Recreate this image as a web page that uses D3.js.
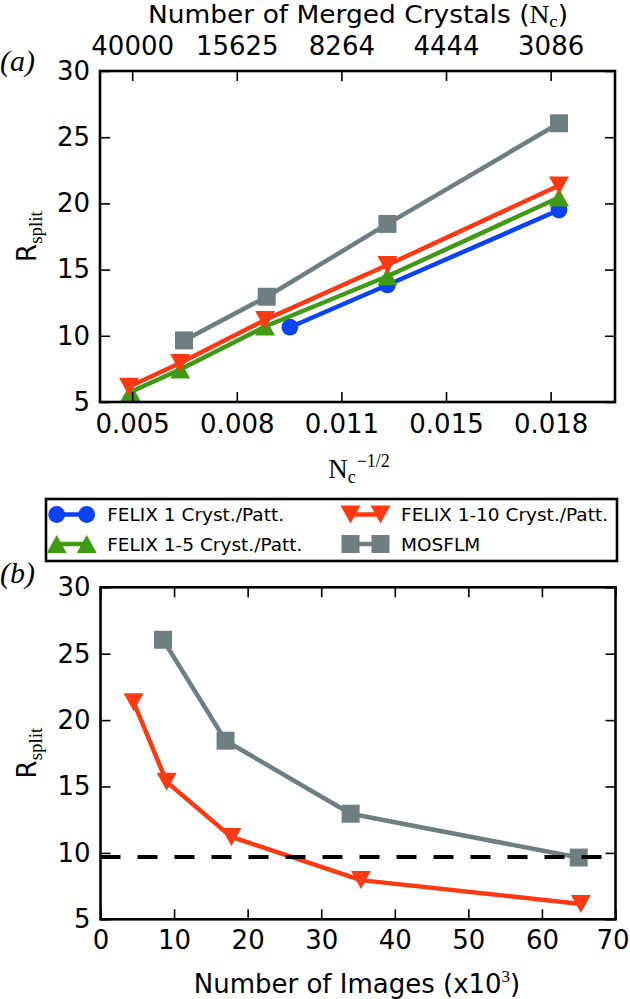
<!DOCTYPE html>
<html><head><meta charset="utf-8">
<script src="https://cdn.jsdelivr.net/npm/d3@7"></script>
<style>
html,body{margin:0;padding:0;background:#fff;}
text{font-family:"DejaVu Sans",sans-serif;fill:#000;}
.serif{font-family:"Liberation Serif","DejaVu Serif",serif;}
</style></head>
<body>
<svg id="chart" width="630" height="999"></svg>
<script>
// ---------- data ----------
const xTicksA = [0.005, 0.00825, 0.0115, 0.01475, 0.018];
const xTickLabelsA = ["0.005", "0.008", "0.011", "0.015", "0.018"];
const topTickLabelsA = ["40000", "15625", "8264", "4444", "3086"];
const yTicks = [5, 10, 15, 20, 25, 30];
const xTicksB = [0, 10, 20, 30, 40, 50, 60, 70];

// panel (a): x = Nc^-1/2, y = Rsplit
const felix1X = [0.0099, 0.01293, 0.01826];
const felix1R = [10.65, 13.84, 19.5];
const felix5X = [0.00495, 0.00649, 0.00913, 0.01293, 0.01826];
const felix5R = [5.75, 7.45, 10.7, 14.5, 20.45];
const felix10X = [0.0049, 0.00649, 0.00913, 0.01293, 0.01826];
const felix10R = [6.15, 7.95, 11.2, 15.35, 21.35];
const mosflmX = [0.00661, 0.00918, 0.01293, 0.01826];
const mosflmR = [9.65, 12.95, 18.45, 26.05];

// panel (b): x = number of images (x10^3)
const felix10Images = [65.3, 35.4, 17.8, 9.0, 4.5];
const felix10RB = [6.15, 7.95, 11.2, 15.35, 21.35];
const mosflmImages = [65.0, 34.0, 17.0, 8.5];
const mosflmRB = [9.65, 12.95, 18.45, 26.05];
const mosflmBest = 9.7;

const seriesNames = ["FELIX 1 Cryst./Patt.", "FELIX 1-5 Cryst./Patt.", "FELIX 1-10 Cryst./Patt.", "MOSFLM"];
const colors = {blue: "#0b43f2", green: "#409a14", red: "#fb3a14", gray: "#6f7f81"};

// ---------- drawing ----------
const svg = d3.select("#chart");
svg.append("rect").attr("width", 630).attr("height", 999).attr("fill", "#fff");

const FS = 26;
const LW = 4.5;

function marker(g, type, color) {
  if (type === "circle") {
    g.append("circle").attr("r", 8.4).attr("fill", color);
  } else if (type === "square") {
    g.append("rect").attr("x", -9).attr("y", -9).attr("width", 18).attr("height", 18).attr("fill", color);
  } else if (type === "tdown") {
    g.append("path").attr("d", "M-10,-9L10,-9L0,9Z").attr("fill", color);
  } else if (type === "tup") {
    g.append("path").attr("d", "M-10,9L10,9L0,-9Z").attr("fill", color);
  }
}

function drawSeries(g, x, y, xs, ys, color, type) {
  const pts = xs.map((v, i) => [x(v), y(ys[i])]);
  g.append("path").attr("d", d3.line()(pts)).attr("fill", "none")
    .attr("stroke", color).attr("stroke-width", LW).attr("stroke-linejoin", "round");
  pts.forEach(p => {
    const m = g.append("g").attr("transform", `translate(${p[0]},${p[1]})`);
    marker(m, type, color);
  });
}

function frameAxes(g, x, y, W, H, opts) {
  const bx = d3.axisBottom(x).tickValues(opts.xTicks).tickSizeInner(-10).tickSizeOuter(0).tickPadding(opts.bPad)
    .tickFormat((d, i) => opts.xLabels ? opts.xLabels[i] : d3.format("d")(d));
  const gb = g.append("g").attr("transform", `translate(0,${H})`).call(bx);
  const tx = d3.axisTop(x).tickValues(opts.xTicks).tickSizeInner(-10).tickSizeOuter(0).tickPadding(16)
    .tickFormat((d, i) => opts.topLabels ? opts.topLabels[i] : "");
  const gt = g.append("g").call(tx);
  const ly = d3.axisLeft(y).tickValues(yTicks).tickSizeInner(-10).tickSizeOuter(0).tickPadding(10).tickFormat(d3.format("d"));
  const gl = g.append("g").call(ly);
  const ry = d3.axisRight(y).tickValues(yTicks).tickSizeInner(-10).tickSizeOuter(0).tickFormat("");
  const gr = g.append("g").attr("transform", `translate(${W},0)`).call(ry);
  [gb, gt, gl, gr].forEach(a => {
    a.select(".domain").remove();
    a.selectAll(".tick line").attr("stroke", "#000").attr("stroke-width", 1.6);
    a.selectAll(".tick text").attr("font-size", FS).attr("font-family", "DejaVu Sans").attr("fill", "#000");
  });
  if (opts.lastShift) {
    gb.selectAll(".tick text").filter((d, i, n) => i === n.length - 1).attr("dx", opts.lastShift);
  }
  g.append("rect").attr("x", 0).attr("y", 0).attr("width", W).attr("height", H)
    .attr("fill", "none").attr("stroke", "#000").attr("stroke-width", 2.6);
}

function yLabel(cx, cy) {
  const t = svg.append("text").attr("transform", `translate(${cx},${cy}) rotate(-90)`)
    .attr("text-anchor", "middle").attr("font-size", FS);
  t.append("tspan").text("R");
  t.append("tspan").attr("class", "serif").attr("font-size", 19).attr("dy", 6).text("split");
}

// ----- panel (a) -----
const A = {l: 100, t: 71, r: 615, b: 402};
const WA = A.r - A.l, HA = A.b - A.t;
const xa = d3.scaleLinear().domain([0.004, 0.020]).range([0, WA]);
const ya = d3.scaleLinear().domain([5, 30]).range([HA, 0]);
const ga = svg.append("g").attr("transform", `translate(${A.l},${A.t})`);

drawSeries(ga, xa, ya, felix1X, felix1R, colors.blue, "circle");
drawSeries(ga, xa, ya, felix5X, felix5R, colors.green, "tup");
drawSeries(ga, xa, ya, felix10X, felix10R, colors.red, "tdown");
drawSeries(ga, xa, ya, mosflmX, mosflmR, colors.gray, "square");
frameAxes(ga, xa, ya, WA, HA, {xTicks: xTicksA, xLabels: xTickLabelsA, topLabels: topTickLabelsA, bPad: 13});

// top title
const tt = svg.append("text").attr("x", 358).attr("y", 23).attr("text-anchor", "middle").attr("font-size", 24)
  .attr("textLength", 420).attr("lengthAdjust", "spacingAndGlyphs");
tt.append("tspan").text("Number of Merged Crystals (");
tt.append("tspan").attr("class", "serif").attr("font-size", 25).text("N");
tt.append("tspan").attr("class", "serif").attr("font-size", 17).attr("dy", 4).text("c");
tt.append("tspan").attr("dy", -4).text(")");

// bottom label Nc^-1/2
const xl = svg.append("text").attr("x", 359).attr("y", 478).attr("text-anchor", "middle").attr("class", "serif").attr("font-size", 27);
xl.append("tspan").text("N");
xl.append("tspan").attr("font-size", 18).attr("dy", 5).text("c");
xl.append("tspan").attr("font-size", 18).attr("dy", -16).attr("dx", 1).text("\u22121/2");

yLabel(36, 236.5);
svg.append("text").attr("class", "serif").attr("x", 0).attr("y", 70.5).attr("font-size", 30).attr("font-style", "italic").text("(a)");

// ----- legend -----
const lg = svg.append("g");
lg.append("rect").attr("x", 46).attr("y", 499).attr("width", 571).attr("height", 62)
  .attr("fill", "#fff").attr("stroke", "#000").attr("stroke-width", 2.6);
const legendItems = [
  {name: seriesNames[0], color: colors.blue, type: "circle", x: 56.7, y: 514.5},
  {name: seriesNames[1], color: colors.green, type: "tup", x: 56.7, y: 544},
  {name: seriesNames[2], color: colors.red, type: "tdown", x: 350.5, y: 514.5},
  {name: seriesNames[3], color: colors.gray, type: "square", x: 350.5, y: 544}
];
legendItems.forEach(it => {
  const g = lg.append("g").attr("transform", `translate(${it.x},${it.y})`);
  g.append("line").attr("x1", 0).attr("x2", 30).attr("stroke", it.color).attr("stroke-width", LW);
  marker(g.append("g"), it.type, it.color);
  marker(g.append("g").attr("transform", "translate(30,0)"), it.type, it.color);
  g.append("text").attr("x", 50.5).attr("dy", "0.36em").attr("font-size", 18.5).text(it.name);
});

// ----- panel (b) -----
const B = {l: 100.5, t: 587.3, r: 615.5, b: 919.3};
const WB = B.r - B.l, HB = B.b - B.t;
const xb = d3.scaleLinear().domain([0, 70]).range([0, WB]);
const yb = d3.scaleLinear().domain([5, 30]).range([HB, 0]);
const gbp = svg.append("g").attr("transform", `translate(${B.l},${B.t})`);

drawSeries(gbp, xb, yb, felix10Images, felix10RB, colors.red, "tdown");
drawSeries(gbp, xb, yb, mosflmImages, mosflmRB, colors.gray, "square");
gbp.append("line").attr("x1", xb(0)).attr("x2", xb(70)).attr("y1", yb(mosflmBest)).attr("y2", yb(mosflmBest))
  .attr("stroke", "#000").attr("stroke-width", 4).attr("stroke-dasharray", "20,17");
frameAxes(gbp, xb, yb, WB, HB, {xTicks: xTicksB, bPad: 11, lastShift: -3});

const xlb = svg.append("text").attr("x", 357).attr("y", 993).attr("text-anchor", "middle").attr("font-size", FS);
xlb.append("tspan").text("Number of Images (x10");
xlb.append("tspan").attr("class", "serif").attr("font-size", 17).attr("dy", -11).text("3");
xlb.append("tspan").attr("dy", 11).text(")");

yLabel(36, 753);
svg.append("text").attr("class", "serif").attr("x", 0).attr("y", 583).attr("font-size", 30).attr("font-style", "italic").text("(b)");
</script>
</body></html>
